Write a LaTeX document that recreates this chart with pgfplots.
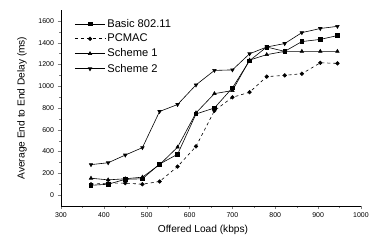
\documentclass[border=0pt]{standalone}
\usepackage{fontspec}
\setmainfont{Liberation Sans}
\usepackage{pgfplots}
\pgfplotsset{compat=1.18}
\begin{document}
\begin{tikzpicture}
\begin{axis}[name=ax,
  scale only axis, width=300bp, height=196bp,
  xmin=300, xmax=1000, ymin=-100, ymax=1700,
  axis lines*=left,
  xtick={300,400,...,1000}, ytick={0,200,...,1600},
  minor tick num=1,
  tick align=outside,
  major tick length=3.5pt, minor tick length=1.8pt,
  /pgf/number format/assume math mode=true,
  /pgf/number format/1000 sep={},
  tick label style={font=\fontsize{7}{8}\selectfont},
  xlabel={Offered Load (kbps)},
  ylabel={Average End to End Delay (ms)},
  label style={font=\fontsize{10.2}{12}\selectfont},
  xlabel style={xshift=-8bp},
  ylabel style={yshift=5bp},
  legend style={draw=none, fill=none, at={(0.035,0.975)}, anchor=north west,
    font=\fontsize{11.2}{13}\selectfont, row sep=1.5pt, cells={anchor=west}},
  legend image code/.code={\draw[mark repeat=2,mark phase=2,#1] plot coordinates {(0cm,0cm) (0.53cm,0cm) (1.06cm,0cm)};},
]
\addplot[black, line width=0.6pt, solid, mark=square*, mark size=1.8pt] coordinates {
(370,90) (410,100) (450,145) (490,150) (530,285) (572,375) (615,745) (658,800) (700,985) (740,1235) (780,1360) (822,1320) (862,1410) (905,1430) (945,1465)};
\addlegendentry{Basic 802.11}
\addplot[black, line width=0.6pt, dashed, mark=*, mark size=1.8pt, mark options={solid}] coordinates {
(370,100) (410,110) (450,110) (490,100) (530,125) (572,262) (615,447) (658,775) (700,898) (740,945) (780,1088) (822,1100) (862,1115) (905,1215) (945,1210)};
\addlegendentry{PCMAC}
\addplot[black, line width=0.6pt, solid, mark=triangle*, mark size=2pt] coordinates {
(370,155) (410,140) (450,150) (490,165) (530,280) (572,440) (615,755) (658,932) (700,960) (740,1240) (780,1290) (822,1320) (862,1320) (905,1320) (945,1320)};
\addlegendentry{Scheme 1}
\addplot[black, line width=0.6pt, solid, mark=triangle*, mark size=2pt, mark options={rotate=180}] coordinates {
(370,280) (410,297) (450,368) (490,436) (530,768) (572,832) (615,1012) (658,1145) (700,1150) (740,1298) (780,1360) (822,1392) (862,1492) (905,1530) (945,1550)};
\addlegendentry{Scheme 2}
\end{axis}
\path (ax.south west) ++(-61bp,-35bp) rectangle ++(374bp,241bp);
\end{tikzpicture}
\end{document}
